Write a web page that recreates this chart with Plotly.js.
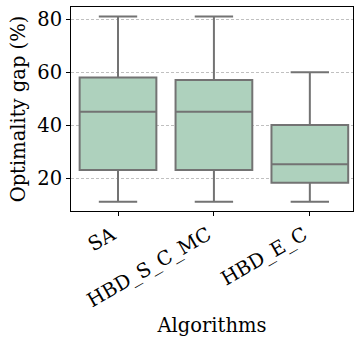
<!DOCTYPE html>
<html><head><meta charset="utf-8">
<script src="https://cdn.plot.ly/plotly-3.0.1.min.js"></script>
<style>html,body{margin:0;padding:0;background:#fff}#chart{width:354px;height:337px}</style>
</head><body><div id="chart"></div>
<script>
const algorithms = ["SA", "HBD_S_C_MC", "HBD_E_C"];
const lowerWhisker = [11, 11, 11];
const q1Values = [23, 23, 18.2];
const medianValues = [45, 45, 25.2];
const q3Values = [58, 57, 40];
const upperWhisker = [81, 81, 60];
const yTicks = [20, 40, 60, 80];

const trace = {
  type: "box",
  x: algorithms,
  q1: q1Values, median: medianValues, q3: q3Values,
  lowerfence: lowerWhisker, upperfence: upperWhisker,
  fillcolor: "#aed1bd",
  line: {color: "#737373", width: 2},
  width: 0.8,
  whiskerwidth: 0.5,
  boxpoints: false,
  hoverinfo: "skip"
};
const font = {family: "DejaVu Serif", size: 19.5, color: "#000"};
const layout = {
  width: 354, height: 337,
  margin: {l: 71, r: 1, t: 7, b: 126},
  paper_bgcolor: "#fff", plot_bgcolor: "#fff",
  font: font,
  showlegend: false,
  xaxis: {
    type: "category", range: [-0.49, 2.45],
    tickangle: -30, ticks: "outside", ticklen: 4, tickcolor: "#000",
    ticklabelshift: -6,
    showline: true, linecolor: "#000", linewidth: 1, mirror: true,
    showgrid: false, zeroline: false,
    tickfont: font,
    title: {text: "Algorithms", font: font, standoff: 8}
  },
  yaxis: {
    range: [7.55, 84.6], tickvals: yTicks,
    ticks: "outside", ticklen: 4, tickcolor: "#000",
    showline: true, linecolor: "#000", linewidth: 1, mirror: true,
    showgrid: true, gridcolor: "#b0b0b0", griddash: "3px,2px", gridwidth: 0.8,
    zeroline: false, tickfont: font,
    title: {text: "Optimality gap (%)", font: font, standoff: 6}
  }
};
Plotly.newPlot("chart", [trace], layout, {staticPlot: true, displayModeBar: false});
</script></body></html>
